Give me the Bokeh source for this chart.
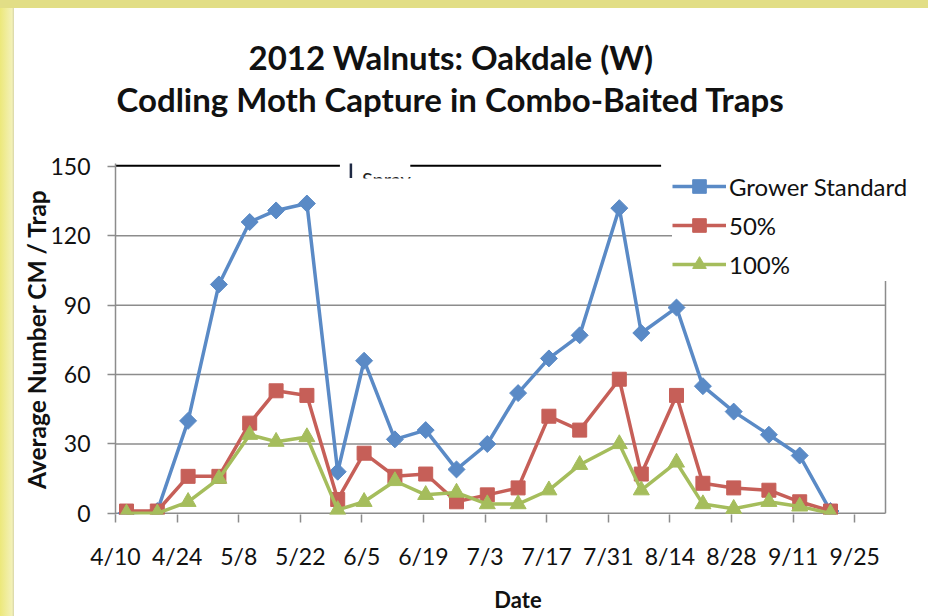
import datetime as dt
import numpy as np
from bokeh.plotting import figure
from bokeh.layouts import column, row
from bokeh.models import FixedTicker, Range1d, Legend, LegendItem, Spacer, Title
from bokeh.core.properties import value
from bokeh.embed import file_html
from bokeh.resources import INLINE

# ---------------- data ----------------
sample_dates = ["4/12", "4/19", "4/26", "5/3", "5/10", "5/16", "5/23", "5/30",
                "6/5", "6/12", "6/19", "6/26", "7/3", "7/10", "7/17", "7/24",
                "8/2", "8/7", "8/15", "8/21", "8/28", "9/5", "9/12", "9/19"]
grower_standard = [0, 1, 40, 99, 126, 131, 134, 18, 66, 32, 36, 19, 30, 52, 67, 77,
                   132, 78, 89, 55, 44, 34, 25, 1]
rate_50 = [1, 1, 16, 16, 39, 53, 51, 6, 26, 16, 17, 5, 8, 11, 42, 36,
           58, 17, 51, 13, 11, 10, 5, 1]
rate_100 = [0, 0, 5, 15, 34, 31, 33, 1.5, 5, 14, 8, 9, 4, 4, 10, 21,
            30, 10, 22, 4, 2, 5, 3, 0]
series_names = ["Grower Standard", "50%", "100%"]
x_tick_labels = ["4/10", "4/24", "5/8", "5/22", "6/5", "6/19", "7/3", "7/17",
                 "7/31", "8/14", "8/28", "9/11", "9/25"]
x_end_date = "10/2"
y_ticks = [0, 30, 60, 90, 120, 150]
y_top = 151.3
spray_text = "Spray"
spray_line_dates = [("4/10", "5/31"), ("6/16", "8/12")]
spray_bar_date = "6/2"
spray_text_date = "6/5"

title_1 = "2012 Walnuts:  Oakdale (W)"
title_2 = "Codling Moth Capture in Combo-Baited Traps"

# ---------------- helpers ----------------
origin = dt.date(2012, 4, 10)


def day(s):
    m, d = map(int, s.split("/"))
    return (dt.date(2012, m, d) - origin).days


xs = [day(s) + 0.5 for s in sample_dates]
x_end = day(x_end_date)

BLUE = "#5a8ac6"
RED = "#c65f58"
GREEN = "#a5bd5c"
GRAY = "#8c8c8c"
FONT = "Lato"

# frame spans page x 115..920 (chart box ends at 885, the legend overhangs it)
p = figure(width=914, height=608, output_backend="svg", toolbar_location=None,
           x_range=Range1d(0, x_end * 805 / 770), y_range=Range1d(-0.5, y_top),
           min_border_left=101, min_border_right=8, min_border_top=155,
           min_border_bottom=102)
p.outline_line_color = None
p.background_fill_color = "white"
p.border_fill_color = "white"
p.grid.visible = False

# two-line title: p.title is outermost; in p.above the first item is nearest the plot
p.title.text = title_1
p.title.text_font = FONT
p.title.text_font_style = "bold"
p.title.text_font_size = "33px"
p.title.text_color = "#111111"
p.title.align = "left"
p.title.offset = 133
p.title.standoff = 0
p.add_layout(Title(text=" ", text_font_size="1px", standoff=42), "above")
p.add_layout(Title(text=title_2, text_font=FONT, text_font_style="bold", text_font_size="33px",
                   text_color="#111111", align="left", offset=1, standoff=0), "above")

# axes
p.xaxis.ticker = FixedTicker(ticks=[day(t) for t in x_tick_labels])
p.xaxis.major_label_overrides = {day(t): t for t in x_tick_labels}
p.yaxis.ticker = FixedTicker(ticks=y_ticks)

for ax in (p.xaxis[0], p.yaxis[0]):
    ax.axis_line_color = GRAY
    ax.axis_line_width = 1.5
    ax.major_tick_line_color = GRAY
    ax.major_tick_line_width = 1.5
    ax.major_tick_in = 0
    ax.major_tick_out = 8
    ax.minor_tick_line_color = None
    ax.major_label_text_font = FONT
    ax.major_label_text_font_size = "23px"
    ax.major_label_text_color = "#111111"
    ax.axis_label_text_font = FONT
    ax.axis_label_text_font_style = "bold"
    ax.axis_label_text_color = "#111111"

p.xaxis.axis_line_color = None
p.xaxis.axis_label = "Date"
p.xaxis.axis_label_text_font_size = "22px"
p.xaxis.major_label_standoff = 19
p.xaxis.axis_label_standoff = 13
p.yaxis.axis_label = "Average Number CM / Trap"
p.yaxis.axis_label_text_font_size = "24.5px"
p.yaxis.major_label_standoff = 17
p.yaxis.axis_label_standoff = -4

# chart box: grid lines, bottom axis line, right border
grid_ticks = [t for t in y_ticks if 0 < t < max(y_ticks)]
p.segment(x0=[0] * len(grid_ticks), x1=[x_end] * len(grid_ticks), y0=grid_ticks, y1=grid_ticks,
          line_color=GRAY, line_width=1.5)
p.segment(x0=[0, x_end], x1=[x_end, x_end], y0=[0, 0], y1=[0, max(grid_ticks)],
          line_color=GRAY, line_width=1.5)

# spray annotation
p.segment(x0=[day(a) for a, b in spray_line_dates], y0=[150.3] * len(spray_line_dates),
          x1=[day(b) for a, b in spray_line_dates], y1=[150.3] * len(spray_line_dates),
          line_color="black", line_width=2)
p.segment(x0=[day(spray_bar_date) + 0.5], y0=[154], x1=[day(spray_bar_date) + 0.5], y1=[145],
          line_color="#1f2a44", line_width=2.5)
p.text(x=[day(spray_text_date)], y=[150.0], text=[spray_text], text_baseline="top",
       text_font=value(FONT), text_font_size="20px", text_color="#222222")
p.quad(left=[day(spray_text_date) - 1], right=[day(spray_text_date) + 14],
       top=[144.8], bottom=[138], fill_color="white", line_color=None)

# series
items = []
specs = [
    (grower_standard, BLUE, "square", 12, np.pi / 4),
    (rate_50, RED, "square", 14, 0.0),
    (rate_100, GREEN, "triangle", 16, 0.0),
]
for name, (vals, col, mk, sz, ang) in zip(series_names, specs):
    ln = p.line(xs, vals, line_color=col, line_width=3.5)
    sc = p.scatter(xs, vals, marker=mk, size=sz, angle=ang, fill_color=col, line_color=col)
    items.append(LegendItem(label=name, renderers=[ln, sc]))

legend = Legend(items=items, location=(557, 233), padding=6, margin=0,
                glyph_width=54, glyph_height=34, label_height=34, spacing=5,
                label_standoff=3, label_text_font=FONT, label_text_font_size="24px",
                label_text_color="#111111", border_line_color=None,
                background_fill_color="white", background_fill_alpha=1.0)
p.add_layout(legend)

# slide frame (yellow edges of the original screenshot)
top_band = Spacer(width=928, height=8, styles={"background": "#e2de86"})
left_band = Spacer(width=14, height=608,
                   styles={"background": "linear-gradient(to right, #ece87a, #f3f1b8 85%, #d8d6a8)"})
page = column(top_band, row(left_band, p, spacing=0), spacing=0)

open("out.html", "w").write(file_html(page, INLINE))
